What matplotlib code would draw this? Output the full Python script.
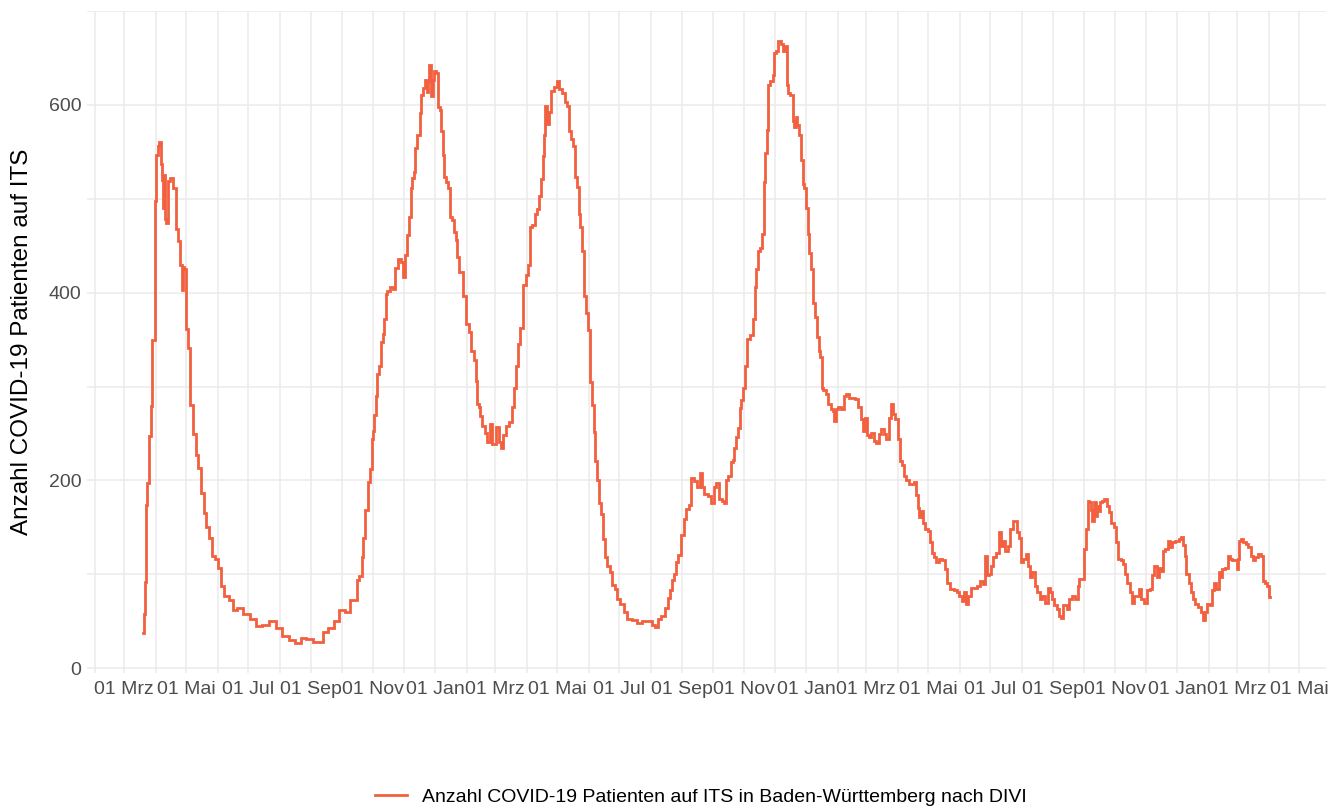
import matplotlib
matplotlib.use("Agg")
import matplotlib.pyplot as plt
import matplotlib.dates as mdates
import numpy as np
from matplotlib.ticker import FixedLocator, FuncFormatter
from matplotlib.lines import Line2D

# ---------------- data ----------------
dates_2020 = ["2020-03-20","2020-03-21","2020-03-22","2020-03-23","2020-03-25","2020-03-27","2020-03-28",
    "2020-03-30","2020-04-01","2020-04-02","2020-04-04","2020-04-05","2020-04-07","2020-04-08","2020-04-09",
    "2020-04-10","2020-04-11","2020-04-12","2020-04-14","2020-04-17","2020-04-20","2020-04-22","2020-04-24",
    "2020-04-26","2020-04-28","2020-04-29","2020-04-30","2020-05-01","2020-05-04","2020-05-06","2020-05-09",
    "2020-05-12","2020-05-14","2020-05-17","2020-05-20","2020-05-22","2020-05-25","2020-05-28","2020-05-31",
    "2020-06-03","2020-06-05","2020-06-10","2020-06-15","2020-06-18","2020-06-23","2020-06-29","2020-07-06",
    "2020-07-11","2020-07-18","2020-07-26","2020-07-31","2020-08-07","2020-08-13","2020-08-20","2020-08-24",
    "2020-08-31","2020-09-06","2020-09-11","2020-09-14","2020-09-21","2020-09-26","2020-10-01","2020-10-08",
    "2020-10-11","2020-10-16","2020-10-17","2020-10-20","2020-10-22","2020-10-23","2020-10-26","2020-10-28",
    "2020-10-30","2020-10-31","2020-11-01","2020-11-03","2020-11-04","2020-11-06","2020-11-08","2020-11-10",
    "2020-11-11","2020-11-13","2020-11-14","2020-11-16","2020-11-19","2020-11-22","2020-11-24","2020-11-27",
    "2020-11-30","2020-12-01","2020-12-03","2020-12-05","2020-12-07","2020-12-09","2020-12-10","2020-12-12",
    "2020-12-13","2020-12-16","2020-12-18","2020-12-19","2020-12-21","2020-12-23","2020-12-25","2020-12-26",
    "2020-12-27","2020-12-29","2020-12-30"]
values_2020 = [38, 58, 92, 174, 197, 247, 279,
    350, 498, 547, 556, 560, 537, 520, 490,
    525, 478, 474, 519, 522, 511, 468, 455,
    429, 403, 427, 425, 361, 341, 280, 250,
    227, 213, 187, 165, 150, 139, 120, 116,
    107, 88, 77, 73, 62, 64, 58, 52,
    45, 46, 50, 43, 34, 30, 27, 32,
    31, 28, 28, 39, 43, 50, 62, 60,
    73, 73, 94, 98, 119, 139, 169, 198,
    212, 244, 253, 270, 290, 313, 322, 347,
    356, 372, 399, 402, 406, 404, 426, 436,
    433, 417, 440, 461, 481, 511, 522, 529,
    554, 568, 591, 611, 618, 627, 614, 625,
    643, 609, 627]

dates_2021 = ["2021-01-01","2021-01-03","2021-01-05","2021-01-06","2021-01-08","2021-01-09","2021-01-11",
    "2021-01-13","2021-01-15","2021-01-17","2021-01-19","2021-01-21","2021-01-22","2021-01-24","2021-01-26",
    "2021-01-30","2021-02-02","2021-02-04","2021-02-07","2021-02-09","2021-02-11","2021-02-12","2021-02-14",
    "2021-02-15","2021-02-18","2021-02-20","2021-02-23","2021-02-25","2021-02-27","2021-03-01","2021-03-03",
    "2021-03-06","2021-03-08","2021-03-10","2021-03-13","2021-03-17","2021-03-19","2021-03-21","2021-03-23",
    "2021-03-25","2021-03-27","2021-03-30","2021-04-01","2021-04-04","2021-04-05","2021-04-08","2021-04-10",
    "2021-04-13","2021-04-14","2021-04-16","2021-04-18","2021-04-19","2021-04-20","2021-04-23","2021-04-24",
    "2021-04-27","2021-04-29","2021-05-02","2021-05-04","2021-05-08","2021-05-10","2021-05-12","2021-05-14",
    "2021-05-16","2021-05-18","2021-05-20","2021-05-22","2021-05-23","2021-05-25","2021-05-27","2021-05-28",
    "2021-05-30","2021-06-01","2021-06-03","2021-06-05","2021-06-07","2021-06-08","2021-06-11","2021-06-12",
    "2021-06-14","2021-06-16","2021-06-18","2021-06-21","2021-06-23","2021-06-26","2021-06-28","2021-06-30",
    "2021-07-03","2021-07-05","2021-07-07","2021-07-11","2021-07-16","2021-07-21","2021-07-26","2021-08-01",
    "2021-08-04","2021-08-07","2021-08-10","2021-08-13","2021-08-17","2021-08-19","2021-08-21","2021-08-23",
    "2021-08-25","2021-08-27","2021-08-29","2021-09-01","2021-09-04","2021-09-06","2021-09-09","2021-09-11",
    "2021-09-15","2021-09-17","2021-09-20","2021-09-22","2021-09-24","2021-09-28","2021-10-01","2021-10-03",
    "2021-10-06","2021-10-09","2021-10-12","2021-10-13","2021-10-15","2021-10-18","2021-10-20","2021-10-22",
    "2021-10-23","2021-10-25","2021-10-27","2021-10-28","2021-10-30","2021-11-01","2021-11-03","2021-11-05",
    "2021-11-08","2021-11-11","2021-11-12","2021-11-14","2021-11-16","2021-11-18","2021-11-20","2021-11-21",
    "2021-11-23","2021-11-24","2021-11-25","2021-11-28","2021-11-30","2021-12-01","2021-12-03","2021-12-06",
    "2021-12-08","2021-12-10","2021-12-12","2021-12-14","2021-12-15","2021-12-18","2021-12-20","2021-12-21",
    "2021-12-23","2021-12-24","2021-12-26","2021-12-28","2021-12-29","2021-12-31"]
values_2021 = [636, 634, 598, 595, 572, 547, 523,
    518, 511, 481, 477, 465, 456, 438, 422,
    397, 367, 358, 338, 328, 306, 281, 278,
    269, 258, 251, 241, 260, 239, 239, 257,
    241, 235, 248, 258, 262, 278, 299, 322,
    345, 362, 408, 419, 429, 470, 472, 484,
    489, 503, 521, 546, 568, 599, 580, 593,
    615, 619, 625, 617, 613, 603, 599, 572,
    564, 556, 523, 513, 484, 470, 444, 397,
    378, 360, 305, 280, 252, 221, 201, 176,
    164, 138, 119, 109, 103, 89, 84, 74,
    68, 68, 60, 52, 51, 48, 50, 50,
    46, 44, 52, 56, 64, 75, 83, 94,
    100, 113, 121, 142, 159, 170, 174, 203,
    199, 193, 208, 193, 186, 184, 176, 193,
    197, 180, 178, 176, 201, 205, 220, 222,
    235, 246, 256, 277, 286, 298, 322, 351,
    355, 372, 406, 425, 444, 448, 463, 518,
    549, 573, 621, 625, 632, 655, 657, 668,
    665, 657, 663, 621, 613, 611, 583, 577,
    587, 579, 568, 541, 516, 511]

dates_2022 = ["2022-01-02","2022-01-03","2022-01-05","2022-01-07","2022-01-09","2022-01-10","2022-01-13",
    "2022-01-14","2022-01-16","2022-01-17","2022-01-19","2022-01-22","2022-01-24","2022-01-26","2022-01-28",
    "2022-01-29","2022-01-31","2022-02-03","2022-02-06","2022-02-08","2022-02-11","2022-02-14","2022-02-17",
    "2022-02-20","2022-02-23","2022-02-25","2022-02-26","2022-03-01","2022-03-02","2022-03-05","2022-03-07",
    "2022-03-10","2022-03-12","2022-03-15","2022-03-17","2022-03-20","2022-03-22","2022-03-25","2022-03-26",
    "2022-03-28","2022-03-31","2022-04-02","2022-04-04","2022-04-06","2022-04-08","2022-04-11","2022-04-13",
    "2022-04-17","2022-04-18","2022-04-20","2022-04-22","2022-04-23","2022-04-25","2022-04-26","2022-04-29",
    "2022-05-02","2022-05-03","2022-05-06","2022-05-08","2022-05-10","2022-05-13","2022-05-16","2022-05-19",
    "2022-05-21","2022-05-24","2022-05-28","2022-05-30","2022-06-02","2022-06-04","2022-06-06","2022-06-09",
    "2022-06-10","2022-06-14","2022-06-17","2022-06-20","2022-06-23","2022-06-25","2022-06-27","2022-06-28",
    "2022-07-01","2022-07-03","2022-07-05","2022-07-08","2022-07-11","2022-07-13","2022-07-15","2022-07-17",
    "2022-07-20","2022-07-22","2022-07-25","2022-07-27","2022-07-28","2022-07-30","2022-08-01","2022-08-03",
    "2022-08-07","2022-08-08","2022-08-10","2022-08-13","2022-08-15","2022-08-18","2022-08-20","2022-08-23",
    "2022-08-25","2022-08-28","2022-08-30","2022-09-01","2022-09-03","2022-09-06","2022-09-08","2022-09-10",
    "2022-09-12","2022-09-14","2022-09-16","2022-09-18","2022-09-21","2022-09-24","2022-09-26","2022-09-27",
    "2022-10-01","2022-10-02","2022-10-04","2022-10-06","2022-10-07","2022-10-09","2022-10-10","2022-10-12",
    "2022-10-14","2022-10-15","2022-10-17","2022-10-18","2022-10-20","2022-10-22","2022-10-23","2022-10-25",
    "2022-10-26","2022-10-29","2022-11-01","2022-11-03","2022-11-05","2022-11-08","2022-11-10","2022-11-12",
    "2022-11-14","2022-11-17","2022-11-19","2022-11-21","2022-11-23","2022-11-25","2022-11-28","2022-12-01",
    "2022-12-04","2022-12-06","2022-12-08","2022-12-11","2022-12-13","2022-12-16","2022-12-17","2022-12-19",
    "2022-12-21","2022-12-24","2022-12-26","2022-12-28"]
values_2022 = [490, 463, 442, 425, 389, 374, 353,
    338, 332, 298, 296, 292, 281, 276, 274,
    263, 276, 278, 276, 290, 292, 288, 288,
    287, 278, 265, 253, 267, 248, 246, 251,
    242, 240, 249, 255, 249, 244, 267, 281,
    271, 265, 244, 221, 216, 205, 200, 196,
    196, 198, 185, 171, 161, 168, 155, 148,
    146, 134, 123, 118, 113, 116, 115, 106,
    91, 84, 83, 81, 77, 72, 81, 68,
    77, 86, 86, 88, 93, 90, 120, 99,
    100, 109, 118, 123, 145, 130, 136, 125,
    130, 148, 157, 157, 145, 139, 113, 116,
    122, 109, 97, 102, 88, 81, 74, 77,
    70, 86, 81, 74, 67, 63, 56, 54,
    67, 67, 63, 74, 77, 74, 88, 95,
    95, 127, 148, 178, 177, 169, 157, 177,
    162, 173, 168, 177, 178, 180, 180, 173,
    166, 155, 150, 134, 116, 115, 111, 100,
    91, 81, 70, 77, 77, 84, 74, 70,
    83, 84, 99, 109, 97, 107, 104, 125,
    127, 136, 129, 134]

dates_2023 = ["2023-01-01","2023-01-04","2023-01-06","2023-01-08","2023-01-09","2023-01-11","2023-01-14",
    "2023-01-16","2023-01-18","2023-01-20","2023-01-23","2023-01-25","2023-01-27","2023-01-29","2023-02-01",
    "2023-02-03","2023-02-06","2023-02-07","2023-02-10","2023-02-12","2023-02-14","2023-02-15","2023-02-19",
    "2023-02-21","2023-02-23","2023-02-25","2023-02-28","2023-03-01","2023-03-02","2023-03-04","2023-03-06",
    "2023-03-08","2023-03-11","2023-03-13","2023-03-16","2023-03-17","2023-03-20","2023-03-23","2023-03-26",
    "2023-03-27","2023-03-29","2023-03-31","2023-04-02"]
values_2023 = [136, 138, 140, 131, 120, 100, 91,
    81, 74, 68, 65, 60, 51, 60, 68,
    67, 83, 91, 84, 102, 97, 106, 107,
    120, 116, 115, 115, 106, 116, 136, 138,
    134, 132, 129, 120, 115, 118, 122, 120,
    93, 91, 88, 76]

month_labels = ["Jan", "Feb", "Mrz", "Apr", "Mai", "Jun", "Jul", "Aug", "Sep", "Okt", "Nov", "Dez"]
y_ticks = [0, 200, 400, 600]
y_minor_ticks = [100, 300, 500, 700]
series_label = "Anzahl COVID-19 Patienten auf ITS in Baden-Württemberg nach DIVI"
y_title = "Anzahl COVID-19 Patienten auf ITS"

# ---------------- plot ----------------
plt.rcParams['font.family'] = ['Liberation Sans', 'DejaVu Sans']

dates = np.array(dates_2020 + dates_2021 + dates_2022 + dates_2023, dtype="datetime64[D]")
values = np.array(values_2020 + values_2021 + values_2022 + values_2023, dtype=float)

W, H = 1343, 810
fig = plt.figure(figsize=(W / 100, H / 100), dpi=100)
left, right, top, bottom = 87, 1326, 11, 673
ax = fig.add_axes([left / W, 1 - bottom / H, (right - left) / W, (bottom - top) / H])

line_color = "#F2603F"
xdates = dates.astype("datetime64[ms]").astype(object)
ax.plot(xdates, values, color=line_color, lw=2.0, drawstyle="steps-mid",
        solid_joinstyle="miter")

# limits with ggplot-like 5% expansion
xd = mdates.date2num(xdates)
xr = xd.max() - xd.min()
ax.set_xlim(xd.min() - 0.05 * xr, xd.max() + 0.05 * xr)
yr = values.max() - values.min()
ax.set_ylim(values.min() - 0.05 * yr, values.max() + 0.05 * yr)

ax.xaxis.set_major_locator(mdates.MonthLocator(bymonth=[1, 3, 5, 7, 9, 11]))
ax.xaxis.set_minor_locator(mdates.MonthLocator(bymonth=[2, 4, 6, 8, 10, 12]))
ax.xaxis.set_major_formatter(FuncFormatter(
    lambda x, pos: "01 " + month_labels[mdates.num2date(x).month - 1]))
ax.yaxis.set_major_locator(FixedLocator(y_ticks))
ax.yaxis.set_minor_locator(FixedLocator(y_minor_ticks))

grid_color = "#EBEBEB"
ax.grid(which="major", color=grid_color, lw=1.1)
ax.grid(which="minor", color=grid_color, lw=1.1)
ax.set_axisbelow(True)
for s in ax.spines.values():
    s.set_visible(False)
ax.tick_params(which="both", length=0)
ax.tick_params(axis="x", which="major", labelsize=14, labelcolor="#4D4D4D", pad=6)
ax.tick_params(axis="y", which="major", labelsize=14, labelcolor="#4D4D4D", pad=4)

fig.text(22 / W, 1 - 342 / H, y_title, rotation=90, ha="center", va="center",
         fontsize=17.5, color="black")

handle = Line2D([], [], color=line_color, lw=2.0)
fig.legend([handle], [series_label], loc="center", bbox_to_anchor=(701 / W, 1 - 797 / H),
           frameon=False, fontsize=14, handlelength=1.65, handletextpad=0.8,
           labelcolor="black")

fig.savefig("out.png", dpi=100, facecolor="white")
